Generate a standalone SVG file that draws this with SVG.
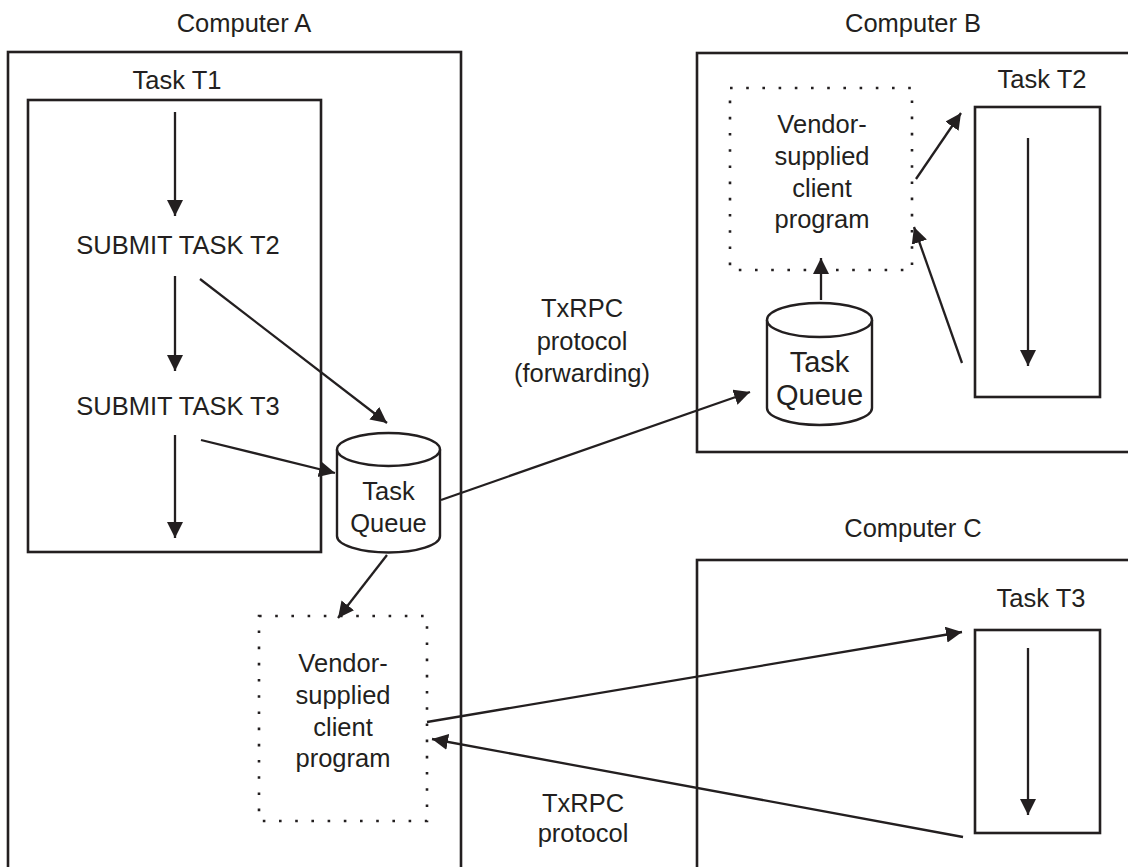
<svg xmlns="http://www.w3.org/2000/svg" width="1128" height="867" viewBox="0 0 1128 867">
<style>
text{font-family:"Liberation Sans",Arial,sans-serif;font-size:25.5px;fill:#231f20;text-anchor:middle}
.box{fill:none;stroke:#231f20;stroke-width:2.6}
.dot{fill:none;stroke:#231f20;stroke-width:2.6;stroke-dasharray:2.6 13.6}
.cyl{fill:#fff;stroke:#231f20;stroke-width:2.4}
.arr{fill:none;stroke:#231f20;stroke-width:2.3;marker-end:url(#ah)}
.big{font-size:29px}
</style>
<defs>
<marker id="ah" markerUnits="userSpaceOnUse" markerWidth="17" markerHeight="17" refX="16" refY="8" orient="auto">
<path d="M0,0 L16,8 L0,16 z" fill="#231f20"/>
</marker>
</defs>
<rect width="1128" height="867" fill="#fff"/>

<g id="computerA">
<rect class="box" x="8" y="52" width="453" height="840"/>
<text x="244" y="32">Computer A</text>
</g>
<g id="taskT1">
<rect class="box" x="28" y="100" width="293" height="452"/>
<text x="177" y="89">Task T1</text>
<text x="178" y="254">SUBMIT TASK T2</text>
<text x="178" y="415">SUBMIT TASK T3</text>
</g>
<g id="queueA">
<path class="cyl" d="M337,449.5 L337,536 A51.5,16.5 0 0 0 440,536 L440,449.5"/>
<ellipse class="cyl" cx="388.5" cy="449.5" rx="51.5" ry="16.5"/>
<text x="388.5" y="500">Task</text>
<text x="388.5" y="532">Queue</text>
</g>
<g id="vendorA">
<rect class="dot" x="259" y="616" width="168" height="205"/>
<text x="343" y="672">Vendor-</text>
<text x="343" y="704">supplied</text>
<text x="343" y="736">client</text>
<text x="343" y="767">program</text>
</g>

<g id="computerB">
<rect class="box" x="697" y="53" width="450" height="399"/>
<text x="913" y="32">Computer B</text>
</g>
<g id="vendorB">
<rect class="dot" x="730" y="88" width="182" height="182"/>
<text x="822" y="133">Vendor-</text>
<text x="822" y="165">supplied</text>
<text x="822" y="197">client</text>
<text x="822" y="228">program</text>
</g>
<g id="queueB">
<path class="cyl" d="M767,320 L767,408 A52.5,17 0 0 0 872,408 L872,320"/>
<ellipse class="cyl" cx="819.5" cy="320" rx="52.5" ry="17"/>
<text class="big" x="819.5" y="372">Task</text>
<text class="big" x="819.5" y="405">Queue</text>
</g>
<g id="taskT2">
<rect class="box" x="975" y="107" width="125" height="290"/>
<text x="1042" y="88">Task T2</text>
</g>

<g id="computerC">
<rect class="box" x="697" y="560" width="450" height="340"/>
<text x="913" y="537">Computer C</text>
</g>
<g id="taskT3">
<rect class="box" x="975" y="630" width="125" height="203"/>
<text x="1041" y="607">Task T3</text>
</g>

<g id="labels">
<text x="582" y="317">TxRPC</text>
<text x="582" y="350">protocol</text>
<text x="582" y="382">(forwarding)</text>
<text x="583" y="812">TxRPC</text>
<text x="583" y="842">protocol</text>
</g>

<g id="connectors">
<line class="arr" x1="175" y1="112" x2="175" y2="216"/>
<line class="arr" x1="175" y1="276" x2="175" y2="371"/>
<line class="arr" x1="175" y1="435" x2="175" y2="538"/>
<line class="arr" x1="200" y1="279" x2="387" y2="423"/>
<line class="arr" x1="201" y1="440" x2="335" y2="473"/>
<line class="arr" x1="387" y1="555" x2="338" y2="618"/>
<line class="arr" x1="441" y1="500" x2="750" y2="392"/>
<line class="arr" x1="821" y1="300" x2="821" y2="258"/>
<line class="arr" x1="916" y1="179" x2="961" y2="113"/>
<line class="arr" x1="962" y1="363" x2="914" y2="227"/>
<line class="arr" x1="1028" y1="138" x2="1028" y2="366"/>
<line class="arr" x1="427" y1="722" x2="962" y2="632"/>
<line class="arr" x1="963" y1="837" x2="432" y2="739"/>
<line class="arr" x1="1028" y1="648" x2="1028" y2="815"/>
</g>
</svg>
